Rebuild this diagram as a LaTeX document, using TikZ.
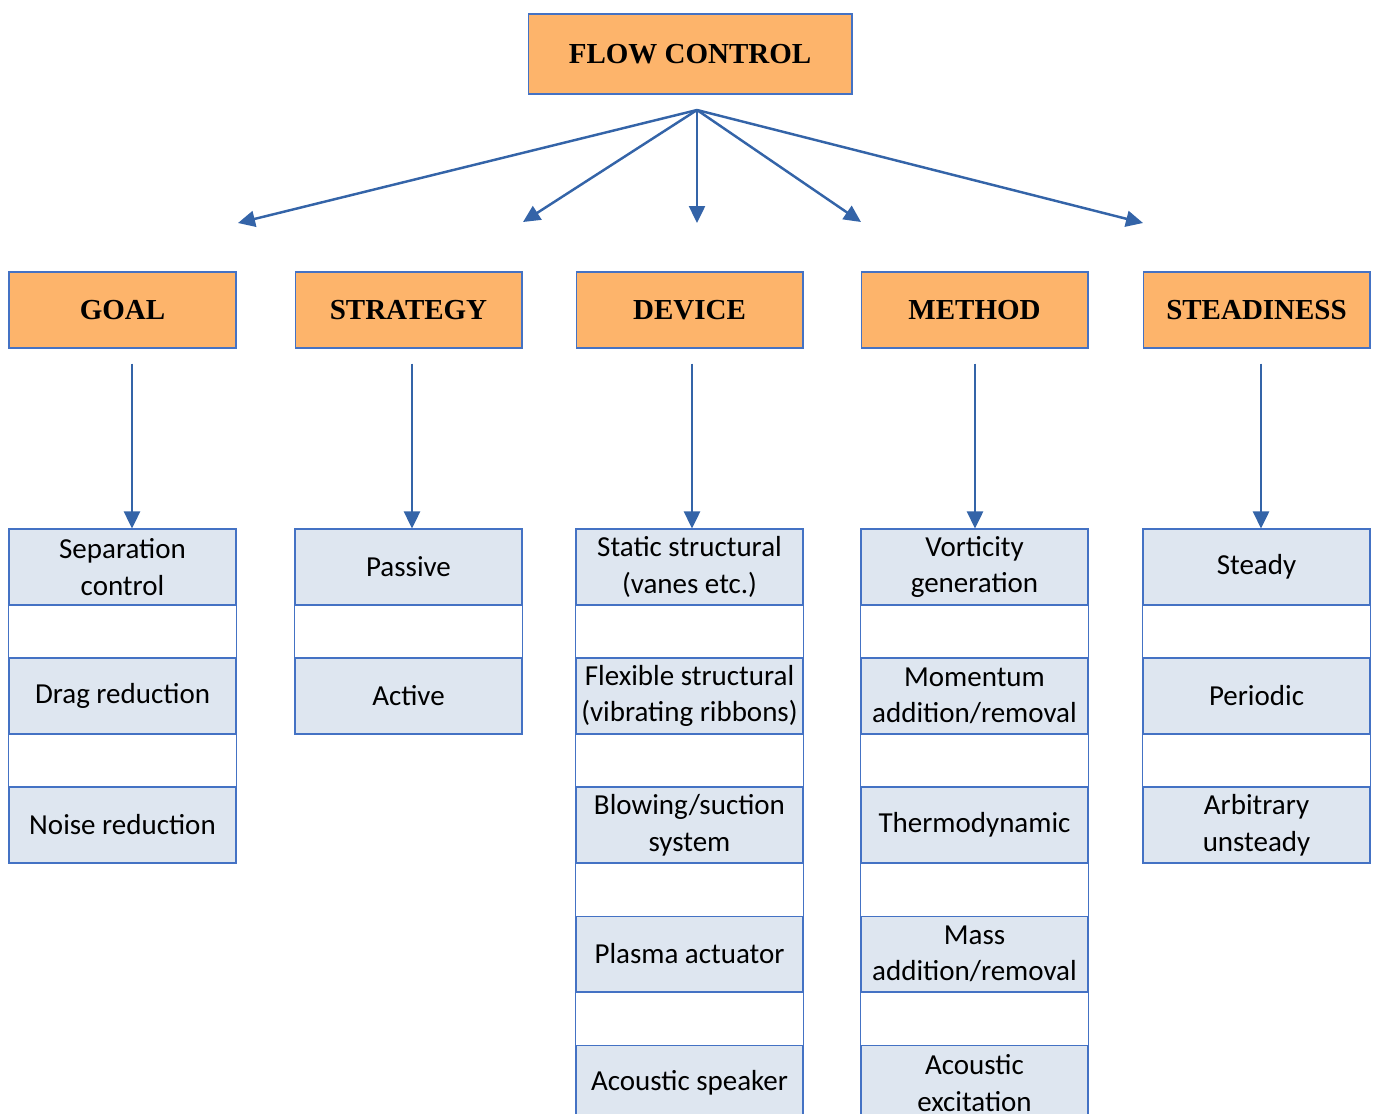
\documentclass[tikz,border=0pt]{standalone}
\usepackage{fontspec}
\setmainfont{Liberation Serif}
\newfontfamily\cellfont{Carlito}
\usetikzlibrary{arrows.meta}

\definecolor{headfill}{RGB}{253,180,107}
\definecolor{cellfill}{RGB}{222,230,240}
\definecolor{edgeblue}{RGB}{68,114,196}
\definecolor{arrowblue}{RGB}{52,100,168}

\tikzset{
  headbox/.style={draw=edgeblue, fill=headfill, line width=0.6pt, minimum width=4.54cm, minimum height=1.52cm, inner sep=0pt, font=\fontsize{16.5}{20}\selectfont\bfseries},
  cellbox/.style={draw=edgeblue, fill=cellfill, line width=0.6pt, minimum width=4.54cm, minimum height=1.52cm, inner sep=0pt, align=center, font=\cellfont\fontsize{16.5}{20.8}\selectfont},
  arr/.style={draw=arrowblue, line width=1.4pt, -{Triangle[length=0.34cm,width=0.32cm]}}
}

\begin{document}
\begin{tikzpicture}[x=0.02cm, y=-0.02cm]
    \clip (0,0) rectangle (1378,1113);

    \node[headbox, minimum width=6.48cm, minimum height=1.6cm] (flow) at (690,54) {FLOW CONTROL};
    \coordinate (fan) at (697,110);

    \node[headbox] (goal) at (122.5,310) {GOAL};
    \node[headbox] (strategy) at (408.5,310) {STRATEGY};
    \node[headbox] (device) at (689.5,310) {DEVICE};
    \node[headbox] (method) at (974.5,310) {METHOD};
    \node[headbox] (steady) at (1256.5,310) {STEADINESS};

    \coordinate (toGoal) at (238,223);
    \coordinate (toStrategy) at (523,222);
    \coordinate (toDevice) at (697,223);
    \coordinate (toMethod) at (861,222);
    \coordinate (toSteady) at (1143,223);
    \foreach \t in {toGoal,toStrategy,toDevice,toMethod,toSteady}
      \draw[arr] (fan) -- (\t);

    \node[cellbox] (goal1) at (122.5,567) {Separation\\control};
    \node[cellbox] (goal2) at (122.5,696) {Drag reduction};
    \node[cellbox] (goal3) at (122.5,825) {Noise reduction};
    \draw[edgeblue, line width=0.6pt] (goal1.north west) rectangle (goal3.south east);

    \node[cellbox] (strategy1) at (408.5,567) {Passive};
    \node[cellbox] (strategy2) at (408.5,696) {Active};
    \draw[edgeblue, line width=0.6pt] (strategy1.north west) rectangle (strategy2.south east);

    \node[cellbox] (device1) at (689.5,567) {Static structural\\(vanes etc.)};
    \node[cellbox] (device2) at (689.5,696) {Flexible structural\\(vibrating ribbons)};
    \node[cellbox] (device3) at (689.5,825) {Blowing/suction\\system};
    \node[cellbox] (device4) at (689.5,954) {Plasma actuator};
    \node[cellbox] (device5) at (689.5,1083) {Acoustic speaker};
    \draw[edgeblue, line width=0.6pt] (device1.north west) rectangle (device5.south east);

    \node[cellbox] (method1) at (974.5,567) {Vorticity\\generation};
    \node[cellbox] (method2) at (974.5,696) {Momentum\\addition/removal};
    \node[cellbox] (method3) at (974.5,825) {Thermodynamic};
    \node[cellbox] (method4) at (974.5,954) {Mass\\addition/removal};
    \node[cellbox] (method5) at (974.5,1083) {Acoustic\\excitation};
    \draw[edgeblue, line width=0.6pt] (method1.north west) rectangle (method5.south east);

    \node[cellbox] (steady1) at (1256.5,567) {Steady};
    \node[cellbox] (steady2) at (1256.5,696) {Periodic};
    \node[cellbox] (steady3) at (1256.5,825) {Arbitrary\\unsteady};
    \draw[edgeblue, line width=0.6pt] (steady1.north west) rectangle (steady3.south east);

    \foreach \a/\b/\dx in {goal/goal1/9.5, strategy/strategy1/3.5, device/device1/2.5, method/method1/0.5, steady/steady1/4.5}
      \draw[arr] ([shift={(\dx,15)}]\a.south) -- ([shift={(\dx,0)}]\b.north);
  \end{tikzpicture}
\end{document}
